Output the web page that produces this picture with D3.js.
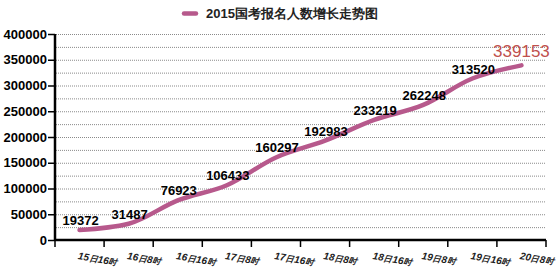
<!DOCTYPE html>
<html><head><meta charset="utf-8">
<script src="https://cdn.jsdelivr.net/npm/d3@7"></script>
<style>body{margin:0;background:#fff}svg{display:block;font-family:"Liberation Sans",Arial,sans-serif}</style>
</head><body><svg id="c" width="560" height="273"></svg>
<script>
const title = "2015国考报名人数增长走势图";
const categories = ["15日16时","16日8时","16日16时","17日8时","17日16时","18日8时","18日16时","19日8时","19日16时","20日8时"];
const values = [19372,31487,76923,106433,160297,192983,233219,262248,313520,339153];
const yTicks = [0,50000,100000,150000,200000,250000,300000,350000,400000];
const gridValues = [25000,50000,75000,100000,125000,150000,175000,200000,225000,250000,275000,300000,325000,350000,375000,400000];

const svg = d3.select("#c");
const lineColor = "#b7598c";
const x = d3.scaleBand().domain(categories).range([55,546]);
const y = d3.scaleLinear().domain([0,400000]).range([240,34]);

// grid
svg.append("g").selectAll("line").data(gridValues).join("line")
  .attr("x1",56).attr("x2",545).attr("y1",d=>y(d)+0.5).attr("y2",d=>y(d)+0.5)
  .attr("stroke","#8a8a8a").attr("stroke-width",1).attr("stroke-dasharray","1,1");

// y axis
const ya = svg.append("g").attr("transform","translate(55,0)")
  .call(d3.axisLeft(y).tickValues(yTicks).tickSize(7).tickPadding(1).tickFormat(d3.format("d")));
ya.select(".domain").attr("stroke","#000").attr("stroke-width",2.5).attr("d","M0,34V240");
ya.selectAll(".tick line").attr("stroke","#000").attr("stroke-width",1.5);
ya.selectAll(".tick text").attr("font-size",13).attr("font-weight","bold").attr("fill","#000");

// x axis
const xa = svg.append("g").attr("transform","translate(0,240)")
  .call(d3.axisBottom(x).tickSize(0).tickFormat(""));
xa.select(".domain").attr("stroke","#000").attr("stroke-width",2.5).attr("d","M55,0H546");
xa.selectAll(".tick").remove();
const bounds = categories.map(c=>x(c)).concat([x.range()[1]]);
svg.append("g").selectAll("line").data(bounds).join("line")
  .attr("x1",d=>d).attr("x2",d=>d).attr("y1",240).attr("y2",247)
  .attr("stroke","#000").attr("stroke-width",1.5);
const xl = svg.append("g").selectAll("text").data(categories).join("text")
  .attr("transform",d=>`translate(${x(d)+x.bandwidth()/2-2},259) rotate(10)`)
  .attr("font-weight","bold").attr("font-style","italic").attr("fill","#222");
xl.each(function(d){
  const t = d3.select(this);
  const parts = d.match(/\d+|\D+/g);
  parts.forEach(p=>{
    t.append("tspan").attr("font-size",/\d/.test(p)?10:8.5).text(p);
  });
});

// line
const cx = d=>x(d)+x.bandwidth()/2;
const line = d3.line().x((d,i)=>cx(categories[i])).y(d=>y(d)).curve(d3.curveMonotoneX);
svg.append("path").datum(values).attr("d",line).attr("fill","none")
  .attr("stroke",lineColor).attr("stroke-width",4.5).attr("stroke-linecap","round").attr("stroke-linejoin","round");

// labels
svg.append("g").selectAll("text").data(values).join("text")
  .attr("x",(d,i)=>cx(categories[i])+(i===values.length-1?0:1))
  .attr("y",(d,i)=>y(d)-(i===values.length-1?8:5))
  .attr("text-anchor","middle")
  .attr("font-size",(d,i)=>i===values.length-1?17:13)
  .attr("font-weight",(d,i)=>i===values.length-1?"normal":"bold")
  .attr("fill",(d,i)=>i===values.length-1?"#c0504d":"#000")
  .text(d=>d);

// legend/title
svg.append("line").attr("x1",184).attr("x2",196).attr("y1",13.5).attr("y2",13.5)
  .attr("stroke",lineColor).attr("stroke-width",4.5).attr("stroke-linecap","round");
svg.append("text").attr("x",206).attr("y",18).attr("font-size",13).attr("font-weight","bold").attr("fill","#222").text(title);
</script></body></html>
